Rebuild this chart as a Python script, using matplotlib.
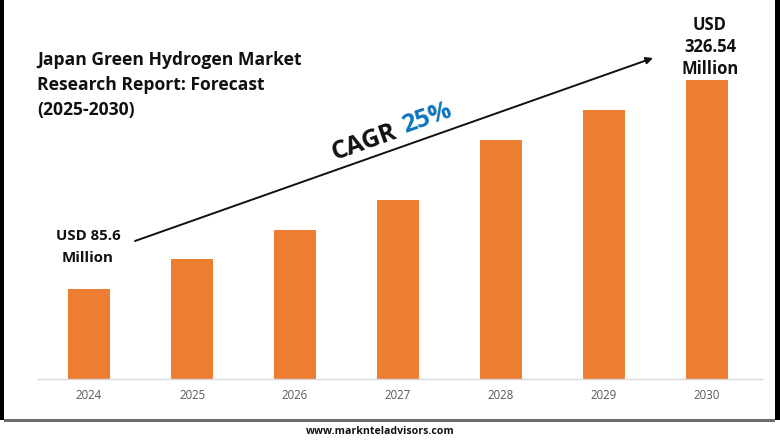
import matplotlib
matplotlib.use("Agg")
import matplotlib.pyplot as plt
from matplotlib.patches import Rectangle

years = ["2024", "2025", "2026", "2027", "2028", "2029", "2030"]
# bar heights (the bars are schematic, not to scale with the labels)
heights = [90, 120, 149, 179, 239, 269, 299]
title = "Japan Green Hydrogen Market\nResearch Report: Forecast\n(2025-2030)"
start_label = "USD 85.6\nMillion"
end_label = "USD\n326.54\nMillion"
source = "www.marknteladvisors.com"

W, H = 780, 440
FONT = "Open Sans"
fig = plt.figure(figsize=(W / 100, H / 100), dpi=100, facecolor="white")

# overlay in pixel coordinates for annotations
ov = fig.add_axes([0, 0, 1, 1], zorder=3)
ov.set_xlim(0, W); ov.set_ylim(H, 0); ov.axis("off"); ov.patch.set_alpha(0)

# bar axes: baseline at y=379, spans x 38..762
ax = fig.add_axes([38 / W, (H - 379) / H, (762 - 38) / W, 379 / H], zorder=2)
ax.patch.set_alpha(0)
step = 103
ax.set_xlim((38 - 89) / step, (762 - 89) / step)
ax.set_ylim(0, 379)
ax.bar(range(len(years)), heights, width=42 / step, color="#ED7D31")
ax.set_xticks(range(len(years)), years, fontsize=8.3, color="#595959", family=FONT)
ax.tick_params(axis="x", length=0, pad=7)
ax.set_yticks([])
for s in ("top", "left", "right"):
    ax.spines[s].set_visible(False)
ax.spines["bottom"].set_color("#D9D9D9")
ax.spines["bottom"].set_linewidth(1)

bold = dict(family=FONT, fontweight="bold", color="#111111")
ov.text(37, 85, title, fontsize=12.6, ha="left", va="center", linespacing=1.47, **bold)
ov.text(88, 247, start_label, fontsize=10.8, ha="center", va="center", linespacing=1.75, **bold)
ov.text(710, 47, end_label, fontsize=12, ha="center", va="center", linespacing=1.32, **bold)
ov.annotate("", xy=(653, 58), xytext=(135, 241),
            arrowprops=dict(arrowstyle="-|>", color="#111111", lw=1.4, mutation_scale=10, shrinkA=0, shrinkB=0))
ov.text(364, 143, "CAGR", fontsize=18, rotation=19.5, rotation_mode="anchor", ha="center", va="center", **bold)
ov.text(427, 118, "25%", fontsize=18, rotation=19.5, rotation_mode="anchor", ha="center", va="center",
        family=FONT, fontweight="bold", color="#0F75BC")

# frame: black side bands and the grey rule above the source line
ov.add_patch(Rectangle((0, 0), 4, 420, color="black", lw=0))
ov.add_patch(Rectangle((775, 0), 5, 420, color="black", lw=0))
ov.add_patch(Rectangle((4, 419), 771, 3, color="#6E6E6E", lw=0))
ov.text(380, 431, source, fontsize=7.6, ha="center", va="center", **bold)

fig.savefig("out.png", dpi=100)
